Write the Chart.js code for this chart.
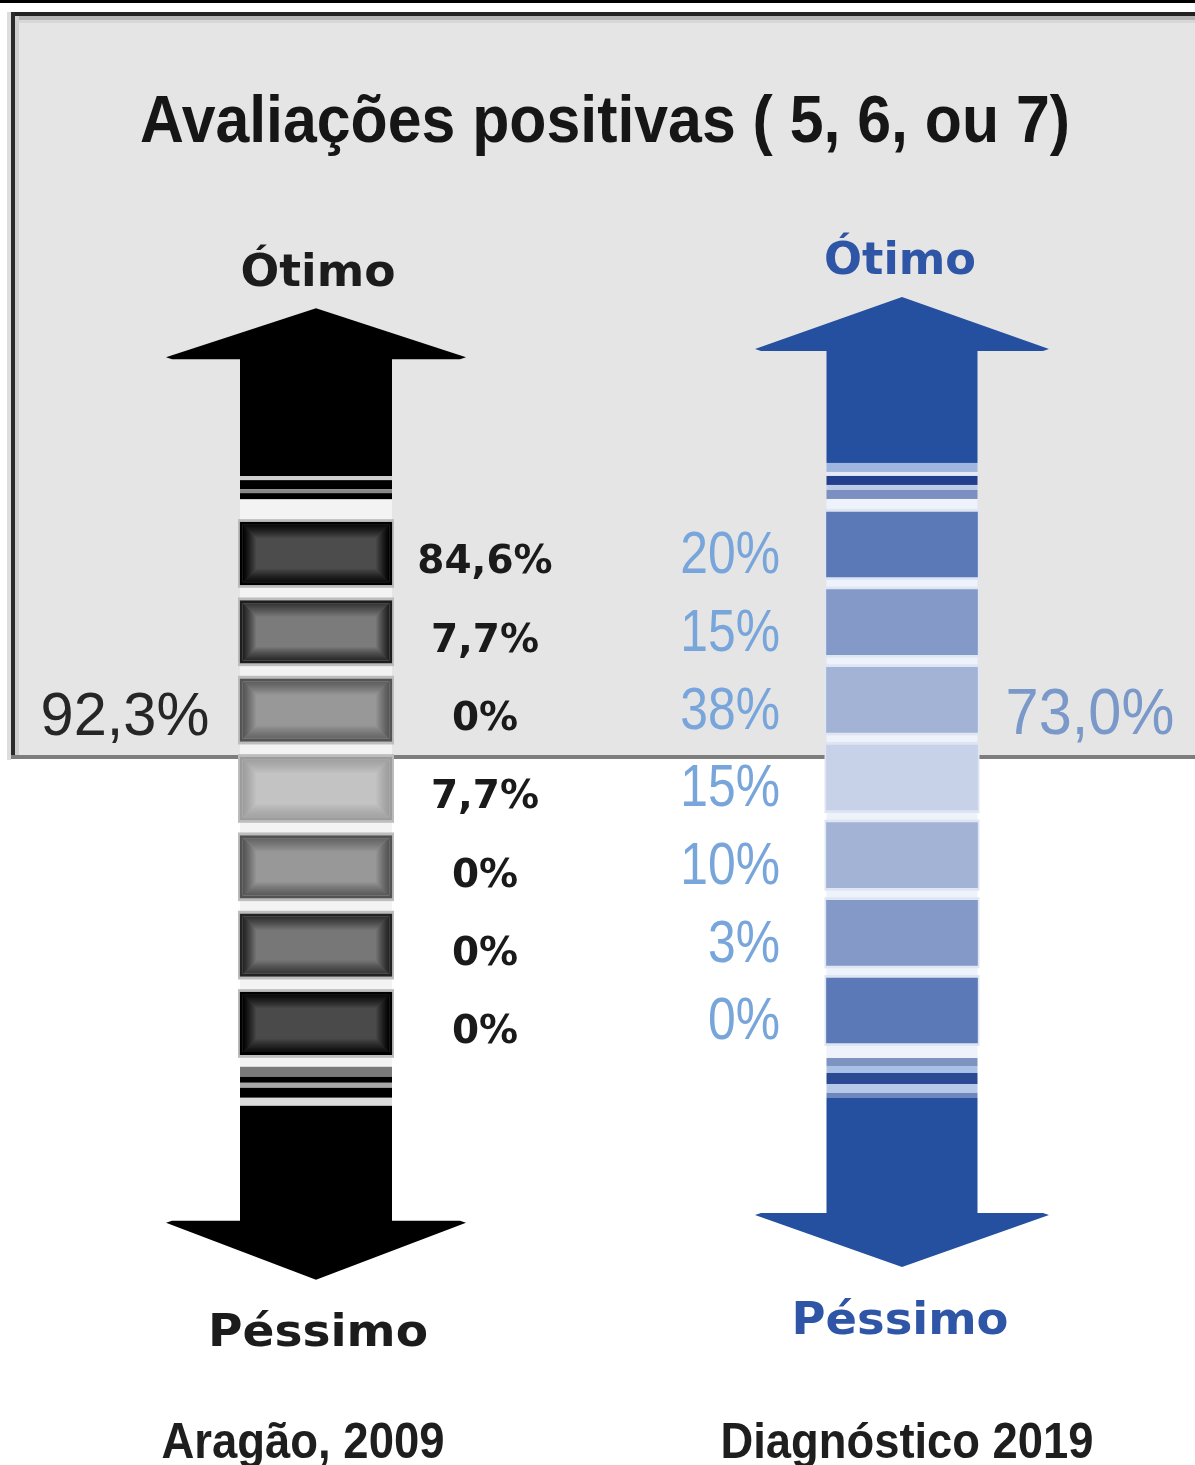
<!DOCTYPE html>
<html><head><meta charset="utf-8">
<script src="https://cdn.jsdelivr.net/npm/chart.js@4/dist/chart.umd.min.js"></script>
<style>html,body{margin:0;padding:0;background:#fff}#wrap{width:1195px;height:1465px;position:relative}</style>
</head><body><div id="wrap"><canvas id="c" width="1195" height="1465"></canvas></div>
<script>
// ---- data ----
const titleText = 'Avaliações positivas ( 5, 6, ou 7)';
const columns = ['Aragão, 2009', 'Diagnóstico 2019'];
const levels = [7, 6, 5, 4, 3, 2, 1];
const positiveLevels = [7, 6, 5];
const aragao2009 = [84.6, 7.7, 0, 7.7, 0, 0, 0];
const diagnostico2019 = [20, 15, 38, 15, 10, 3, 0];
const topText = 'Ótimo';
const bottomText = 'Péssimo';

// ---- styles ----
const W = 1195, H = 1465;
const leftFill = ['#4c4c4c','#7b7b7b','#989898','#c3c3c3','#989898','#777777','#4a4a4a'];
const leftEdge = ['#000000','#1e1e1e','#545454','#9c9c9c','#525252','#222222','#000000'];
const rightFill = ['#5b79b6','#8499c8','#a3b3d5','#c7d1e7','#a3b3d5','#8599c8','#5b79b6'];

const colStyle = [
  { arrow:'#000000', colBg:'#f3f3f3', ring:'#bdbdbd', headHalf:150,
    tip:214, headBase:167, shaftTop:46, bgTop:23, bgBottom:12,
    topStripes:[[-46,-42,'#d0d0d0'],[-42,-33,'#000000'],[-33,-29,'#8a8a8a'],[-29,-23,'#000000']],
    botStripes:[[12,22,'#7a7a7a'],[22,28,'#000000'],[28,33,'#a8a8a8'],[33,43,'#000000'],[43,51,'#dcdcdc']],
    shaftBottom:51, headBaseB:170, tipB:225,
    textColor:'#1c1c1c', topBase:236, botBase:291, topW:155, botW:220 },
  { arrow:'#24509f', colBg:'#eef2fa', ring:'#dfe6f3', headHalf:147,
    tip:215, headBase:165, shaftTop:49, bgTop:13, bgBottom:15,
    topStripes:[[-49,-40,'#9fb6de'],[-40,-36,'#e4ebf7'],[-36,-27,'#213f8c'],[-27,-22,'#bccbe8'],[-22,-13,'#7c8fc1']],
    botStripes:[[15,23,'#7f93c1'],[23,30,'#a9c1e7'],[30,41,'#2a4993'],[41,50,'#b6c9e9'],[50,55,'#6f86bd']],
    shaftBottom:55, headBaseB:174, tipB:224,
    textColor:'#2f56a6', topBase:238, botBase:291, topW:152, botW:217 }
];

const fmt = (v, d) => (d == null ? String(v) : v.toFixed(d)).replace('.', ',') + '%';

function hexToRgb(h) { const n = parseInt(h.slice(1), 16); return [(n >> 16) & 255, (n >> 8) & 255, n & 255]; }
function mix(a, b, t) {
  const A = hexToRgb(a), B = hexToRgb(b);
  return 'rgb(' + A.map((v, i) => Math.round(v + (B[i] - v) * t)).join(',') + ')';
}

function drawText(ctx, text, x, y, font, color, align, opt) {
  opt = opt || {};
  ctx.save();
  ctx.font = font; ctx.fillStyle = color; ctx.textBaseline = 'alphabetic'; ctx.textAlign = align;
  let s = opt.sx || 1;
  if (opt.width) s = opt.width / ctx.measureText(text).width;
  ctx.translate(x, y); ctx.scale(s, 1);
  ctx.fillText(text, 0, 0);
  ctx.restore();
}

function barBox(el) {
  const p = el.getProps(['x','y','base','width'], true);
  return { x:p.x, top:Math.min(p.y,p.base), bottom:Math.max(p.y,p.base), w:p.width };
}

const infographic = {
  id: 'infographic',
  beforeDraw(chart) {
    const ctx = chart.ctx;
    ctx.save();
    ctx.fillStyle = '#ffffff'; ctx.fillRect(0, 0, W, H);
    ctx.fillStyle = '#000000'; ctx.fillRect(0, 0, W, 3);
    ctx.fillStyle = '#dddddd'; ctx.fillRect(7, 12, 4, 748);
    ctx.fillStyle = '#e6e5e6'; ctx.fillRect(13, 13, W, 744);
    ctx.fillStyle = '#222222'; ctx.fillRect(11, 12, W, 4);
    ctx.fillStyle = '#b5b5b5'; ctx.fillRect(15, 16, W, 4);
    ctx.fillStyle = '#d8d8d8'; ctx.fillRect(15, 20, W, 3);
    ctx.fillStyle = '#2a2a2a'; ctx.fillRect(11, 12, 4, 747);
    ctx.fillStyle = '#cfcfcf'; ctx.fillRect(15, 16, 4, 740);
    ctx.fillStyle = '#7d7d7d'; ctx.fillRect(11, 755, W, 4);
    ctx.restore();
  },
  beforeDatasetsDraw(chart) {
    const ctx = chart.ctx;
    ctx.save();
    [0, 1].forEach(i => {
      const s = colStyle[i];
      const bars = chart.getDatasetMeta(i).data.map(barBox);
      const cx = bars[0].x, hw = bars[0].w / 2;
      const T = bars[0].top, B = bars[bars.length - 1].bottom;
      ctx.fillStyle = s.colBg;
      ctx.fillRect(cx - hw, T - s.bgTop, 2 * hw, (B + s.bgBottom) - (T - s.bgTop));
      ctx.fillStyle = s.arrow;
      ctx.fillRect(cx - hw, T - s.headBase - 0.5, 2 * hw, s.headBase - s.shaftTop + 0.5);
      ctx.beginPath();
      ctx.moveTo(cx, T - s.tip);
      ctx.lineTo(cx + s.headHalf, T - s.headBase + 2);
      ctx.lineTo(cx + s.headHalf - 6, T - s.headBase + 4);
      ctx.lineTo(cx - s.headHalf + 6, T - s.headBase + 4);
      ctx.lineTo(cx - s.headHalf, T - s.headBase + 2);
      ctx.closePath(); ctx.fill();
      for (const [a, b, c] of s.topStripes) { ctx.fillStyle = c; ctx.fillRect(cx - hw, T + a, 2 * hw, b - a); }
      for (const [a, b, c] of s.botStripes) { ctx.fillStyle = c; ctx.fillRect(cx - hw, B + a, 2 * hw, b - a); }
      ctx.fillStyle = s.arrow;
      ctx.fillRect(cx - hw, B + s.shaftBottom, 2 * hw, s.headBaseB - s.shaftBottom + 0.5);
      ctx.beginPath();
      ctx.moveTo(cx, B + s.tipB);
      ctx.lineTo(cx + s.headHalf, B + s.headBaseB - 2);
      ctx.lineTo(cx + s.headHalf - 6, B + s.headBaseB - 4);
      ctx.lineTo(cx - s.headHalf + 6, B + s.headBaseB - 4);
      ctx.lineTo(cx - s.headHalf, B + s.headBaseB - 2);
      ctx.closePath(); ctx.fill();
      // light ring around each box
      ctx.fillStyle = s.ring;
      bars.forEach(b => ctx.fillRect(b.x - b.w / 2 - 2, b.top - 3, b.w + 4, b.bottom - b.top + 6));
    });
    ctx.restore();
  },
  afterDatasetsDraw(chart) {
    const ctx = chart.ctx;
    ctx.save();
    const L = chart.getDatasetMeta(0).data.map(barBox);
    const R = chart.getDatasetMeta(1).data.map(barBox);
    // soft inner shading of the grey boxes (edge -> fill)
    L.forEach((b, j) => {
      const steps = 14;
      for (let k = 0; k < steps; k++) {
        const inset = 3 + k + 0.5;
        ctx.strokeStyle = mix(leftEdge[j], leftFill[j], Math.pow((k + 1) / steps, 1.2));
        ctx.lineWidth = 1;
        ctx.strokeRect(b.x - b.w / 2 + inset, b.top + inset, b.w - 2 * inset, b.bottom - b.top - 2 * inset);
      }
    });
    // value labels
    L.forEach((b, j) => {
      const cy = (b.top + b.bottom) / 2;
      drawText(ctx, fmt(aragao2009[j]), b.x + 169, cy + 20, 'bold 39px "DejaVu Sans"', '#1a1a1a', 'center');
    });
    R.forEach((b, j) => {
      const cy = (b.top + b.bottom) / 2;
      drawText(ctx, fmt(diagnostico2019[j]), b.x - 122, cy + 29, '60px "Liberation Sans"', '#78a6da', 'right', { sx: 0.83 });
    });
    // positive totals
    const idx5 = levels.indexOf(positiveLevels[positiveLevels.length - 1]);
    const sumL = positiveLevels.reduce((a, lv) => a + aragao2009[levels.indexOf(lv)], 0);
    const sumR = positiveLevels.reduce((a, lv) => a + diagnostico2019[levels.indexOf(lv)], 0);
    const l5 = L[idx5], r5 = R[idx5];
    drawText(ctx, fmt(Math.round(sumL * 10) / 10), l5.x - 191, (l5.top + l5.bottom) / 2 + 25, '62px "Liberation Sans"', '#262626', 'center', { sx: 0.96 });
    drawText(ctx, fmt(sumR, 1), r5.x + 188, (r5.top + r5.bottom) / 2 + 34, '64px "Liberation Sans"', '#7a99c9', 'center', { sx: 0.93 });
    // Ótimo / Péssimo
    [L, R].forEach((bars, i) => {
      const s = colStyle[i];
      const cx = bars[0].x, T = bars[0].top, B = bars[bars.length - 1].bottom;
      drawText(ctx, topText, cx + (i ? -2 : 2), T - s.topBase, 'bold 44px "DejaVu Sans"', s.textColor, 'center', { width: s.topW });
      drawText(ctx, bottomText, cx + (i ? -2 : 2), B + s.botBase, 'bold 44px "DejaVu Sans"', s.textColor, 'center', { width: s.botW });
    });
    // column names
    drawText(ctx, columns[0], L[0].x - 13, 1458, 'bold 50px "Liberation Sans"', '#1e1e1e', 'center', { width: 283 });
    drawText(ctx, columns[1], R[0].x + 5, 1458, 'bold 50px "Liberation Sans"', '#1e1e1e', 'center', { width: 373 });
    // title
    drawText(ctx, titleText, 605, 142, 'bold 66px "Liberation Sans Narrow", "Liberation Sans"', '#161616', 'center', { width: 930 });
    ctx.restore();
  }
};

const halfL = 0.4, halfR = 0.4185;
new Chart(document.getElementById('c'), {
  type: 'bar',
  data: {
    labels: columns,
    datasets: [
      { label: columns[0], yAxisID: 'yL',
        data: levels.map(lv => ({ x: columns[0], y: [lv - halfL, lv + halfL] })),
        backgroundColor: leftFill, borderColor: leftEdge, borderWidth: 3, borderSkipped: false,
        barThickness: 152, grouped: false },
      { label: columns[1], yAxisID: 'yR',
        data: levels.map(lv => ({ x: columns[1], y: [lv - halfR, lv + halfR] })),
        backgroundColor: rightFill, borderColor: rightFill, borderWidth: 0, borderSkipped: false,
        barThickness: 151, grouped: false }
    ]
  },
  options: {
    responsive: false, animation: false, devicePixelRatio: 1,
    layout: { padding: { left: 23, right: 0, top: 0, bottom: 0 } },
    plugins: { legend: { display: false }, title: { display: false }, tooltip: { enabled: false } },
    scales: {
      x: { type: 'category', display: false, offset: true },
      yL: { type: 'linear', display: false, min: -4.637, max: 14.066 },
      yR: { type: 'linear', display: false, min: -4.852, max: 14.010 }
    }
  },
  plugins: [infographic]
});
</script>
</body></html>
